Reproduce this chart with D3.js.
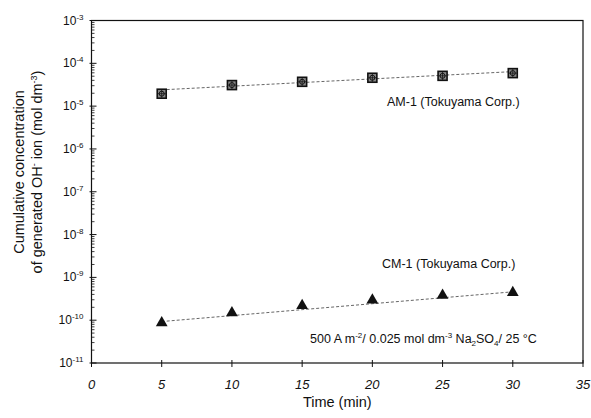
<!DOCTYPE html>
<html><head><meta charset="utf-8">
<script src="https://cdn.jsdelivr.net/npm/d3@7"></script>
<style>body{margin:0;background:#fff}svg{display:block}text{font-family:"Liberation Sans",Arial,sans-serif;fill:#111}</style>
</head><body><svg id="c" width="591" height="418"></svg>
<script>
const times = [5, 10, 15, 20, 25, 30];
const am1 = [1.95e-5, 3.1e-5, 3.7e-5, 4.6e-5, 5.1e-5, 5.9e-5];
const cm1 = [8.7e-11, 1.49e-10, 2.2e-10, 2.95e-10, 3.8e-10, 4.4e-10];
const fitTimes = [5, 30];
const fitAM = [2.4e-5, 6.4e-5];
const fitCM = [9.3e-11, 4.6e-10];
const xTicks = [0, 5, 10, 15, 20, 25, 30, 35];
const yExps = [-3, -4, -5, -6, -7, -8, -9, -10, -11];

const svg = d3.select("#c");
const L = 91.5, R = 583, T = 20.5, B = 363;
const x = d3.scaleLinear().domain([0, 35]).range([L, R]);
const y = d3.scaleLog().domain([1e-11, 1e-3]).range([B, T]);

// frame
svg.append("rect").attr("x", L).attr("y", T).attr("width", R - L).attr("height", B - T)
  .attr("fill", "none").attr("stroke", "#111").attr("stroke-width", 1.2);

// x ticks
const xg = svg.append("g");
xTicks.forEach(t => {
  xg.append("line").attr("x1", x(t)).attr("x2", x(t)).attr("y1", B - 3).attr("y2", B + 4)
    .attr("stroke", "#111").attr("stroke-width", 1);
  xg.append("text").attr("x", x(t)).attr("y", B + 26).attr("text-anchor", "middle")
    .attr("font-size", 13).attr("font-style", "italic").text(t);
});

// y ticks
const yg = svg.append("g");
yExps.forEach(e => {
  const v = Math.pow(10, e);
  yg.append("line").attr("x1", L - 2).attr("x2", L + 5).attr("y1", y(v)).attr("y2", y(v))
    .attr("stroke", "#111").attr("stroke-width", 1);
  const tx = yg.append("text").attr("x", L - 8).attr("y", y(v) + 4).attr("text-anchor", "end")
    .attr("font-size", 12);
  tx.append("tspan").text("10");
  tx.append("tspan").attr("dy", -5).attr("font-size", 8).text("-" + (-e));
  if (e > -11) {
    for (let m = 2; m <= 9; m++) {
      const mv = m * Math.pow(10, e - 1);
      yg.append("line").attr("x1", L).attr("x2", L + 3).attr("y1", y(mv)).attr("y2", y(mv))
        .attr("stroke", "#111").attr("stroke-width", 0.8);
    }
  }
});

// fit lines
const line = d3.line().x(d => x(d[0])).y(d => y(d[1]));
[fitAM, fitCM].forEach(f => {
  svg.append("path").attr("d", line(fitTimes.map((t, i) => [t, f[i]])))
    .attr("fill", "none").attr("stroke", "#555").attr("stroke-width", 0.9)
    .attr("stroke-dasharray", "3,2");
});

// AM-1 markers
times.forEach((t, i) => {
  const cx = x(t), cy = y(am1[i]);
  const g = svg.append("g");
  g.append("rect").attr("x", cx - 4.5).attr("y", cy - 4.5).attr("width", 9).attr("height", 9)
    .attr("fill", "#888").attr("stroke", "#111").attr("stroke-width", 1.6);
  g.append("circle").attr("cx", cx).attr("cy", cy).attr("r", 2.5).attr("fill", "none")
    .attr("stroke", "#111").attr("stroke-width", 1);
  g.append("line").attr("x1", cx - 4).attr("x2", cx + 4).attr("y1", cy).attr("y2", cy).attr("stroke", "#111").attr("stroke-width", 0.8);
  g.append("line").attr("x1", cx).attr("x2", cx).attr("y1", cy - 4).attr("y2", cy + 4).attr("stroke", "#111").attr("stroke-width", 0.8);
});

// CM-1 markers
const tri = d3.symbol().type(d3.symbolTriangle).size(60);
times.forEach((t, i) => {
  svg.append("path").attr("d", tri()).attr("transform", `translate(${x(t)},${y(cm1[i])})`)
    .attr("fill", "#111");
});

// annotations
svg.append("text").attr("x", 387).attr("y", 106).attr("font-size", 12.5).text("AM-1 (Tokuyama Corp.)");
svg.append("text").attr("x", 382).attr("y", 268).attr("font-size", 12.5).text("CM-1 (Tokuyama Corp.)");
const c = svg.append("text").attr("x", 310).attr("y", 343).attr("font-size", 12.5);
c.append("tspan").text("500 A m");
c.append("tspan").attr("dy", -5).attr("font-size", 8).text("-2");
c.append("tspan").attr("dy", 5).text("/ 0.025 mol dm");
c.append("tspan").attr("dy", -5).attr("font-size", 8).text("-3");
c.append("tspan").attr("dy", 5).text(" Na");
c.append("tspan").attr("dy", 3).attr("font-size", 8).text("2");
c.append("tspan").attr("dy", -3).text("SO");
c.append("tspan").attr("dy", 3).attr("font-size", 8).text("4");
c.append("tspan").attr("dy", -3).text("/ 25 °C");

// axis titles
svg.append("text").attr("x", x(17.5)).attr("y", 407).attr("text-anchor", "middle")
  .attr("font-size", 14.5).text("Time (min)");
svg.append("text").attr("transform", "translate(24,172) rotate(-90)")
  .attr("text-anchor", "middle").attr("font-size", 14.5).text("Cumulative concentration");
const yt2 = svg.append("text").attr("transform", "translate(42,172) rotate(-90)")
  .attr("text-anchor", "middle").attr("font-size", 14.5);
yt2.append("tspan").text("of generated OH");
yt2.append("tspan").attr("dy", -5).attr("font-size", 9).text("-");
yt2.append("tspan").attr("dy", 5).text(" ion (mol dm");
yt2.append("tspan").attr("dy", -5).attr("font-size", 9).text("-3");
yt2.append("tspan").attr("dy", 5).text(")");
</script></body></html>
